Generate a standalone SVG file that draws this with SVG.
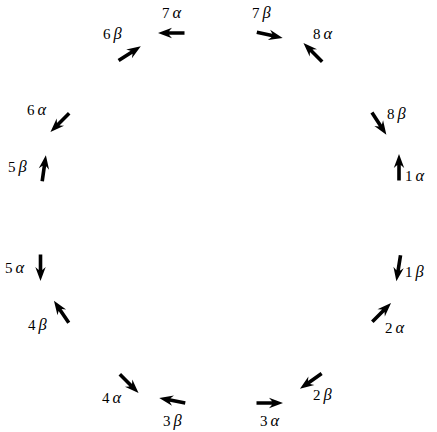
<svg xmlns="http://www.w3.org/2000/svg" width="437" height="432" viewBox="0 0 437 432">
<style>
text{font-family:"Liberation Serif","Times New Roman",serif;font-size:15px;fill:#000}
.g{font-style:italic;font-size:16.5px}
.a{fill:#000}
</style>
<defs>
<path id="arr" class="a" d="M-13,-1.8 L2.5,-1.8 L-0.5,-5.2 L13.5,0 L-0.5,5.2 L2.5,1.8 L-13,1.8 Z"/>
</defs>
<rect width="437" height="432" fill="#fff"/>
<g id="connectors">
<use href="#arr" transform="translate(171.5,33) rotate(180)"/>
<use href="#arr" transform="translate(269.5,35) rotate(12.5)"/>
<use href="#arr" transform="translate(313,52.5) rotate(-135)"/>
<use href="#arr" transform="translate(379,123.5) rotate(57)"/>
<use href="#arr" transform="translate(399,167.5) rotate(-90)"/>
<use href="#arr" transform="translate(398.5,268) rotate(99)"/>
<use href="#arr" transform="translate(381.5,312.5) rotate(-45)"/>
<use href="#arr" transform="translate(311,381) rotate(145)"/>
<use href="#arr" transform="translate(269.5,403) rotate(0)"/>
<use href="#arr" transform="translate(172.5,400.5) rotate(191)"/>
<use href="#arr" transform="translate(129,383.5) rotate(45)"/>
<use href="#arr" transform="translate(61.5,312) rotate(-124)"/>
<use href="#arr" transform="translate(40.5,267.5) rotate(90)"/>
<use href="#arr" transform="translate(44,168.5) rotate(-82)"/>
<use href="#arr" transform="translate(60,122.5) rotate(135)"/>
<use href="#arr" transform="translate(129.5,53.5) rotate(-33)"/>
</g>
<g id="n7a"><text x="162" y="18">7<tspan class="g" dx="3">α</tspan></text></g>
<g id="n6b"><text x="103" y="39">6<tspan class="g" dx="3">β</tspan></text></g>
<g id="n7b"><text x="252" y="17.5">7<tspan class="g" dx="3">β</tspan></text></g>
<g id="n8a"><text x="313" y="39">8<tspan class="g" dx="3">α</tspan></text></g>
<g id="n6a"><text x="27" y="115">6<tspan class="g" dx="3">α</tspan></text></g>
<g id="n5b"><text x="8" y="172">5<tspan class="g" dx="3">β</tspan></text></g>
<g id="n8b"><text x="387" y="119">8<tspan class="g" dx="3">β</tspan></text></g>
<g id="n1a"><text x="405" y="181">1<tspan class="g" dx="3">α</tspan></text></g>
<g id="n5a"><text x="5" y="273">5<tspan class="g" dx="3">α</tspan></text></g>
<g id="n4b"><text x="28" y="330">4<tspan class="g" dx="3">β</tspan></text></g>
<g id="n1b"><text x="405" y="277">1<tspan class="g" dx="3">β</tspan></text></g>
<g id="n2a"><text x="385" y="333">2<tspan class="g" dx="3">α</tspan></text></g>
<g id="n4a"><text x="102" y="403">4<tspan class="g" dx="3">α</tspan></text></g>
<g id="n3b"><text x="163" y="426">3<tspan class="g" dx="3">β</tspan></text></g>
<g id="n2b"><text x="313" y="400">2<tspan class="g" dx="3">β</tspan></text></g>
<g id="n3a"><text x="260" y="426">3<tspan class="g" dx="3">α</tspan></text></g>
</svg>
